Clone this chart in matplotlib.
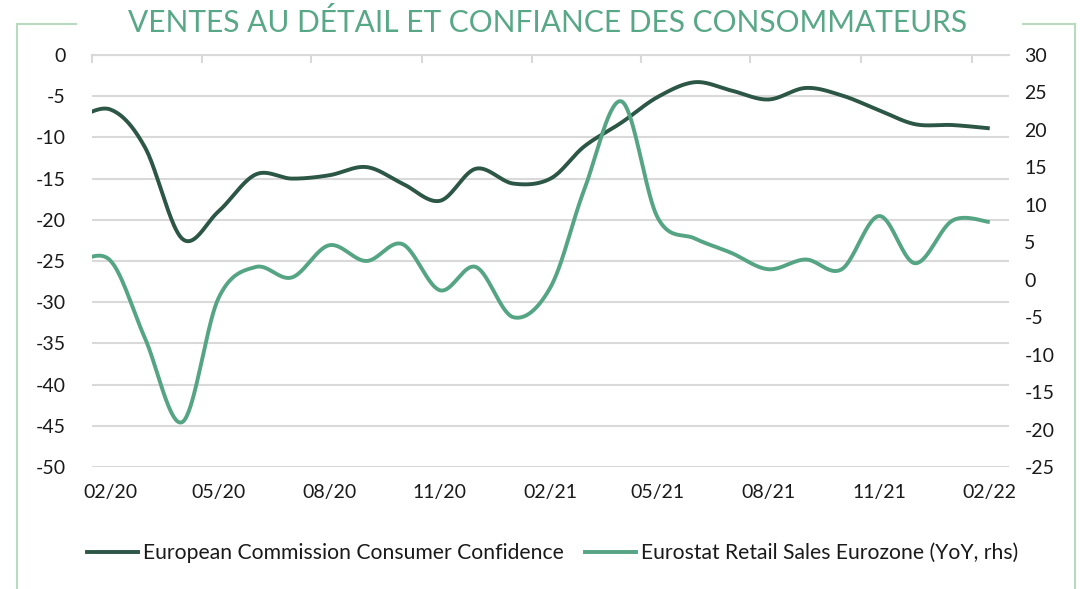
import numpy as np
import pandas as pd
import matplotlib
matplotlib.use("Agg")
import matplotlib.pyplot as plt
import matplotlib.dates as mdates
from matplotlib.lines import Line2D

# ---- data ----
months = pd.date_range("2020-01-01", "2022-02-01", freq="MS")
confidence = [-8.0, -6.6, -11.2, -22.3, -19.0, -14.5, -15.0, -14.6, -13.6, -15.6,
              -17.7, -13.8, -15.6, -15.0, -11.1, -8.2, -5.1, -3.3, -4.3, -5.4,
              -4.0, -4.9, -6.7, -8.4, -8.5, -8.9]
retail = [2.0, 2.6, -7.8, -19.0, -2.5, 1.7, 0.3, 4.6, 2.5, 4.75,
          -1.4, 1.7, -5.0, -1.0, 12.0, 23.8, 8.3, 5.5, 3.6, 1.4,
          2.7, 1.4, 8.5, 2.2, 7.9, 7.7]
label_dates = pd.date_range("2020-02-01", "2022-02-01", freq="3MS")
tick_labels = [d.strftime("%m/%y") for d in label_dates]
mark_dates = [pd.Timestamp(d.year, d.month, 17) for d in pd.date_range("2020-01-01", "2022-01-01", freq="3MS")]
left_ticks = list(range(0, -55, -5))
right_ticks = list(range(30, -30, -5))
title = "VENTES AU DÉTAIL ET CONFIANCE DES CONSOMMATEURS"
name1 = "European Commission Consumer Confidence"
name2 = "Eurostat Retail Sales Eurozone (YoY, rhs)"

DARK = "#2c5646"
LIGHT = "#55a585"
GRID = "#d9d9d9"
BORDER = "#b8dbc0"

plt.rcParams['font.family'] = ['Lato', 'DejaVu Sans']


def smooth(x, y, n=40):
    """Catmull-Rom style smoothing (like Excel's smoothed line)."""
    x = np.asarray(x, float)
    y = np.asarray(y, float)
    xs, ys = [], []
    m = len(x)
    for i in range(m - 1):
        i0 = max(i - 1, 0)
        i3 = min(i + 2, m - 1)
        p0 = np.array([x[i], y[i]])
        p3 = np.array([x[i + 1], y[i + 1]])
        p1 = p0 + (np.array([x[i + 1], y[i + 1]]) - np.array([x[i0], y[i0]])) / 6.0
        p2 = p3 - (np.array([x[i3], y[i3]]) - np.array([x[i], y[i]])) / 6.0
        t = np.linspace(0, 1, n, endpoint=(i == m - 2))
        pts = ((1 - t) ** 3)[:, None] * p0 + (3 * (1 - t) ** 2 * t)[:, None] * p1 \
            + (3 * (1 - t) * t ** 2)[:, None] * p2 + (t ** 3)[:, None] * p3
        xs.append(pts[:, 0])
        ys.append(pts[:, 1])
    return np.concatenate(xs), np.concatenate(ys)


fig = plt.figure(figsize=(10.8, 5.89), dpi=100)
ax = fig.add_axes([92 / 1080, 1 - 467 / 589, (1009 - 92) / 1080, (467 - 55) / 589])
ax2 = ax.twinx()

xnum = mdates.date2num(months)
sx, sy1 = smooth(xnum, confidence)
_, sy2 = smooth(xnum, retail)

ax.plot(sx, sy1, color=DARK, lw=2.8, solid_capstyle='butt', zorder=3)
ax2.plot(sx, sy2, color=LIGHT, lw=2.8, solid_capstyle='butt', zorder=3)

ax.set_xlim(mdates.date2num(pd.Timestamp("2020-01-17")), mdates.date2num(pd.Timestamp("2022-02-17")))
ax.set_ylim(-50, 0)
ax2.set_ylim(-25, 30)
ax.set_yticks(left_ticks)
ax2.set_yticks(right_ticks)
ax.set_yticklabels([str(v) for v in left_ticks])
ax2.set_yticklabels([str(v) for v in right_ticks])

ax.set_xticks(mdates.date2num(label_dates))
ax.set_xticklabels(tick_labels)
ax.set_xticks(mdates.date2num(mark_dates), minor=True)

ax.grid(axis='y', color=GRID, lw=1.5, zorder=0)
ax.set_axisbelow(True)
for a in (ax, ax2):
    for s in a.spines.values():
        s.set_visible(False)
ax.spines['top'].set_visible(True)
ax.spines['top'].set_color(GRID)
ax.spines['top'].set_linewidth(1.5)

ax.tick_params(axis='x', which='major', length=0, pad=12, labelsize=14, labelcolor='#1a1a1a')
ax.tick_params(axis='x', which='minor', bottom=False, top=True, direction='in',
               length=6, width=1.5, color=GRID)
ax.tick_params(axis='y', length=0, pad=19, labelsize=14, labelcolor='#1a1a1a')
ax2.tick_params(axis='y', length=0, pad=11, labelsize=14, labelcolor='#1a1a1a')

# title
fig.text(548 / 1080, 1 - 22 / 589, title, ha='center', va='center',
         fontsize=21.5, color='#58a887', fontweight='normal')

# border (with a gap for the title)
bcol = BORDER
fig.add_artist(Line2D([17 / 1080, 17 / 1080], [1 - 24 / 589, -0.01], color=bcol, lw=1.5, transform=fig.transFigure))
fig.add_artist(Line2D([1075 / 1080, 1075 / 1080], [1 - 24 / 589, -0.01], color=bcol, lw=1.5, transform=fig.transFigure))
fig.add_artist(Line2D([17 / 1080, 76 / 1080], [1 - 24 / 589, 1 - 24 / 589], color=bcol, lw=1.5, transform=fig.transFigure))
fig.add_artist(Line2D([1023 / 1080, 1075 / 1080], [1 - 24 / 589, 1 - 24 / 589], color=bcol, lw=1.5, transform=fig.transFigure))

handles = [Line2D([], [], color=DARK, lw=2.8), Line2D([], [], color=LIGHT, lw=2.8)]
fig.legend(handles, [name1, name2], loc='center', bbox_to_anchor=(553 / 1080, 1 - 553 / 589),
           ncol=2, frameon=False, fontsize=15.2, handlelength=2.4, handletextpad=0.25,
           columnspacing=1.0, labelcolor='#1a1a1a')

fig.savefig("out.png", dpi=100)
